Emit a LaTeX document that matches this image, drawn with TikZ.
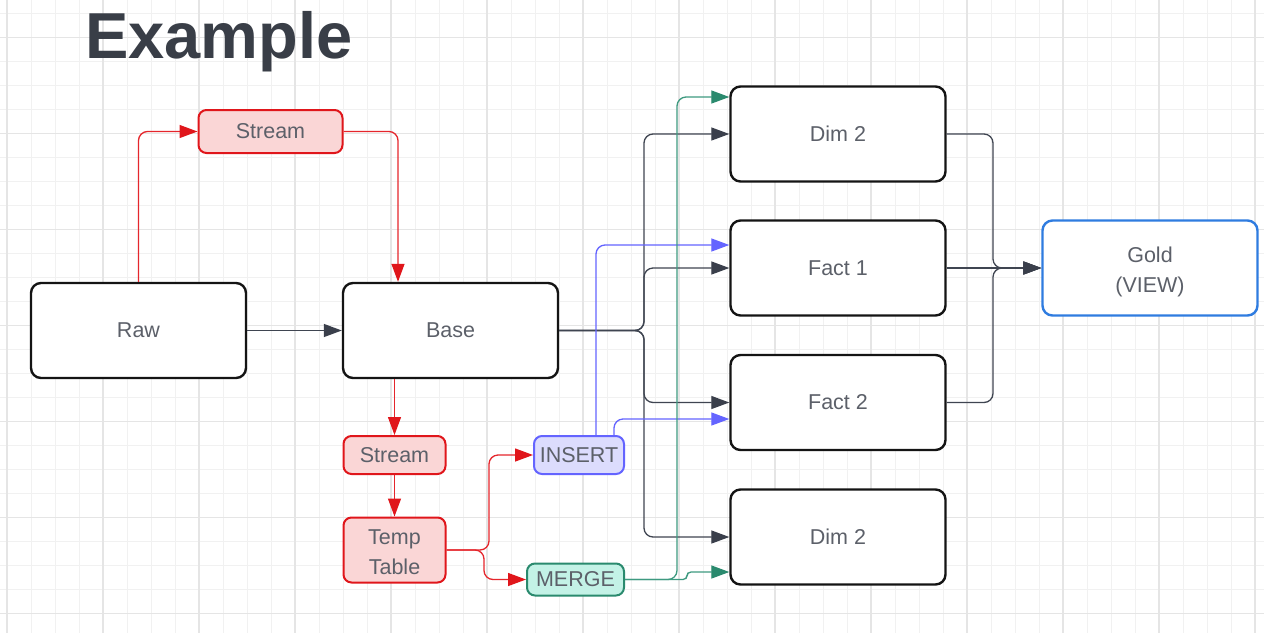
\documentclass[tikz,border=0pt]{standalone}
\usepackage{fontspec}
\setmainfont{Liberation Sans}
\usetikzlibrary{arrows.meta}
\definecolor{gridminor}{HTML}{F1F1F1}
\definecolor{gridmajor}{HTML}{E5E5E5}
\definecolor{titlecol}{HTML}{393E47}
\definecolor{labelcol}{HTML}{5C6069}
\definecolor{boxborder}{HTML}{141414}
\definecolor{darkline}{HTML}{3F4551}
\definecolor{darkhead}{HTML}{3A3F4B}
\definecolor{redline}{HTML}{E5262C}
\definecolor{redhead}{HTML}{E0161B}
\definecolor{redfill}{HTML}{FAD6D6}
\definecolor{blueline}{HTML}{6464FF}
\definecolor{bluefill}{HTML}{DCDCFD}
\definecolor{tealline}{HTML}{3E9A80}
\definecolor{tealhead}{HTML}{2A8A6E}
\definecolor{tealfill}{HTML}{C3F2E6}
\definecolor{goldborder}{HTML}{2F7CE0}
\newcommand{\twolines}[2]{\raisebox{-3pt}[\height][\depth]{\begin{tabular}{@{}c@{}}#1\\#2\end{tabular}}}
\tikzset{
  bigbox/.style={draw=boxborder, line width=2.4pt, rounded corners=10pt, fill=white,
    minimum width=215pt, minimum height=95pt, inner sep=0pt, text=labelcol,
    font=\fontsize{21.5}{30}\selectfont, align=center},
  redbox/.style={draw=redhead, line width=2pt, rounded corners=8pt, fill=redfill,
    inner sep=0pt, text=labelcol, font=\fontsize{21.5}{30}\selectfont, align=center},
  insbox/.style={draw=blueline, line width=2pt, rounded corners=8pt, fill=bluefill,
    inner sep=0pt, text=labelcol, font=\fontsize{21.5}{30}\selectfont},
  mrgbox/.style={draw=tealhead, line width=2pt, rounded corners=8pt, fill=tealfill,
    inner sep=0pt, text=labelcol, font=\fontsize{21.5}{30}\selectfont},
  goldbox/.style={bigbox, draw=goldborder},
  darkarrow/.style={draw=darkline, line width=1.3pt, rounded corners=9pt,
    -{Triangle[length=18pt,width=13pt,fill=darkhead,color=darkhead]}},
  redarrow/.style={draw=redline, line width=1.3pt, rounded corners=9pt,
    -{Triangle[length=18pt,width=13pt,fill=redhead,color=redhead]}},
  bluearrow/.style={draw=blueline, line width=1.3pt, rounded corners=9pt,
    -{Triangle[length=18pt,width=13pt,fill=blueline,color=blueline]}},
  tealarrow/.style={draw=tealline, line width=1.3pt, rounded corners=9pt,
    -{Triangle[length=18pt,width=13pt,fill=tealhead,color=tealhead]}},
}
\begin{document}
\begin{tikzpicture}[x=1pt,y=-1pt]
\useasboundingbox (0,0) rectangle (1264,633);
\fill[white] (0,0) rectangle (1264,633);
% grid
\foreach \x in {7,31,...,1263} \draw[gridminor, line width=1pt] (\x,0) -- (\x,633);
\foreach \y in {13.5,37.5,...,633} \draw[gridminor, line width=1pt] (0,\y) -- (1264,\y);
\foreach \x in {7,103,...,1263} \draw[gridmajor, line width=1.2pt] (\x,0) -- (\x,633);
\foreach \y in {37.5,133.5,...,633} \draw[gridmajor, line width=1.2pt] (0,\y) -- (1264,\y);

% title
\node[anchor=base west, inner sep=0pt, text=titlecol, font=\fontsize{65}{70}\selectfont\bfseries] (title) at (85,58.3) {Example};

% nodes
\node[bigbox] (raw) at (138.5,330.5) {Raw};
\node[bigbox] (base) at (450.5,330.5) {Base};
\node[redbox, minimum width=144pt, minimum height=43pt] (stream1) at (270.5,131.5) {Stream};
\node[redbox, minimum width=102pt, minimum height=38pt] (stream2) at (394.5,455) {Stream};
\node[redbox, minimum width=102pt, minimum height=65pt] (temp) at (394.5,550) {\twolines{Temp}{Table}};
\node[insbox, minimum width=90pt, minimum height=38pt] (insert) at (579,455) {INSERT};
\node[mrgbox, minimum width=97pt, minimum height=32pt] (merge) at (575.5,579.5) {MERGE};
\node[bigbox] (dimA) at (838,134) {Dim 2};
\node[bigbox] (fact1) at (838,268) {Fact 1};
\node[bigbox] (fact2) at (838,402.5) {Fact 2};
\node[bigbox] (dimB) at (838,537) {Dim 2};
\node[goldbox] (gold) at (1150,268) {\twolines{Gold}{(VIEW)}};

% helper coordinates
\coordinate (jT) at (398,0);
\coordinate (jI) at (489,0);
\coordinate (jM) at (484,0);
\coordinate (jB) at (644,0);
\coordinate (jMe) at (677,0);
\coordinate (jMb) at (687,0);
\coordinate (jG) at (993,0);
\coordinate (tDimA) at ([yshift=37pt]dimA.west);
\coordinate (tDimB) at ([yshift=-35pt]dimB.west);
\coordinate (tFact1) at ([yshift=23pt]fact1.west);
\coordinate (tFact2) at ([yshift=-16.5pt]fact2.west);

% red flows
\draw[redarrow] (raw.north) |- (stream1.west);
\draw[redarrow] (stream1.east) -| (base.north -| jT);
\draw[redarrow] (base.south -| stream2) -- (stream2.north);
\draw[redarrow] (stream2.south) -- (temp.north);
\draw[redarrow] (temp.east) -| (insert.west -| jI) -- (insert.west);
\draw[redarrow] (temp.east) -| (merge.west -| jM) -- (merge.west);

% raw to base
\draw[darkarrow] (raw.east) -- (base.west);

% base fan-out
\draw[darkarrow] (base.east) -| (dimA.west -| jB) -- (dimA.west);
\draw[darkarrow] (base.east) -| (fact1.west -| jB) -- (fact1.west);
\draw[darkarrow] (base.east) -| (fact2.west -| jB) -- (fact2.west);
\draw[darkarrow] (base.east) -| (dimB.west -| jB) -- (dimB.west);

% insert
\draw[bluearrow] ([xshift=17pt]insert.north) |- (tFact1);
\draw[bluearrow] ([xshift=35pt]insert.north) |- (tFact2);

% merge
\draw[tealarrow] (merge.east) -| (jMe |- tDimA) -- (tDimA);
\draw[tealarrow, rounded corners=4pt] (merge.east) -| (jMb |- tDimB) -- (tDimB);

% to gold
\draw[darkarrow] (dimA.east) -| (jG |- gold.west) -- (gold.west);
\draw[darkarrow] (fact1.east) -- (gold.west);
\draw[darkarrow] (fact2.east) -| (jG |- gold.west) -- (gold.west);
\end{tikzpicture}
\end{document}
